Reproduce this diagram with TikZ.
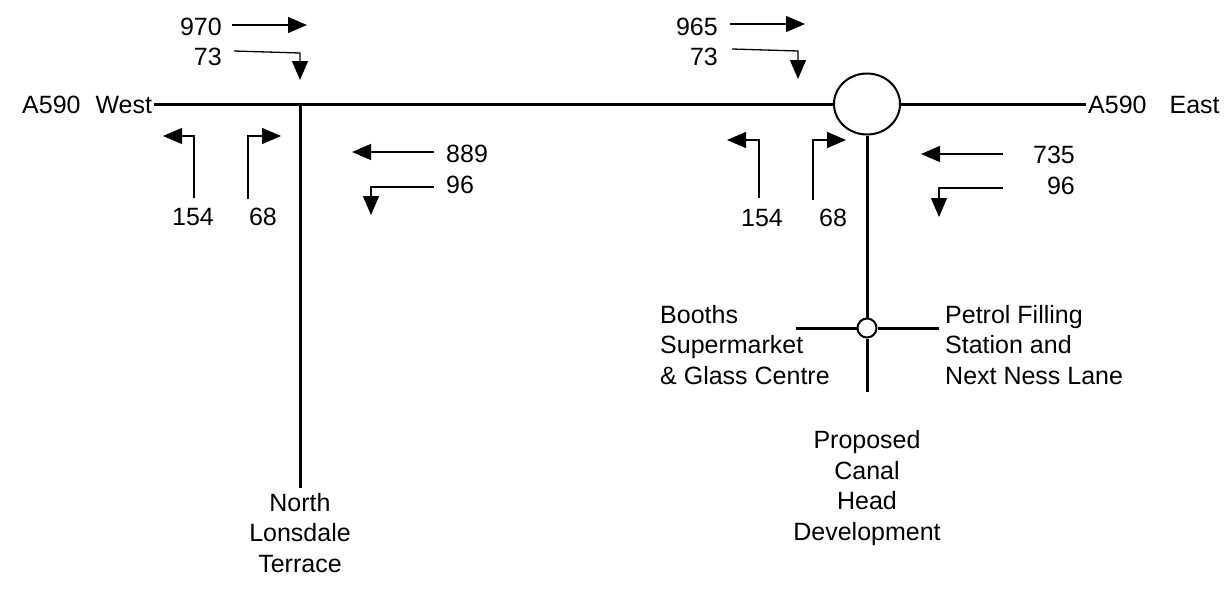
\documentclass[tikz,border=0pt]{standalone}
\usepackage{fontspec}
\setmainfont{Liberation Sans}
\usetikzlibrary{arrows.meta,shapes.geometric}

\begin{document}
\begin{tikzpicture}[x=1pt,y=-1pt,
    road/.style={line width=3pt},
    flow/.style={line width=1.3pt,-{Triangle[length=19pt,width=16pt]}},
    txt/.style={inner sep=0pt,font=\fontsize{25}{30.5}\selectfont},
    ring/.style={draw,line width=2pt,inner sep=0pt}]
\useasboundingbox (0,0) rectangle (1231,589);

% main road and junctions
\node[txt,anchor=base west] (west) at (22,113) {A590\hspace{15pt}West};
\node[txt,anchor=base west] (east) at (1088,113) {A590\hspace{23pt}East};
\node[ring,ellipse,minimum width=66pt,minimum height=61pt] (rb) at (867,104) {};
\node[ring,circle,minimum size=19pt] (mini) at (867,328) {};
\coordinate (wj) at (300,104);
\coordinate (nlt) at (300,488);
\coordinate (canal) at (867,392);
\coordinate (booths) at (796,328);
\coordinate (petrol) at (939,328);
\draw[road] ([xshift=2pt]west.east |- wj) -- (rb.west);
\draw[road] (rb.east) -- ([xshift=-2pt]east.west |- rb);
\draw[road] (wj) -- (nlt);
\draw[road] (rb.south) -- (mini.north);
\draw[road] (mini.south) -- (canal);
\draw[road] (booths) -- (mini.west);
\draw[road] (mini.east) -- (petrol);

% road names (base = last line)
\node[txt,anchor=base,align=center] (nltname) at (300,572) {North\\Lonsdale\\Terrace};
\node[txt,anchor=base,align=center] (canalname) at (867,540) {Proposed\\Canal\\Head\\Development};
\node[txt,anchor=base west,align=left] (boothsname) at (660,384) {Booths\\Supermarket\\\& Glass Centre};
\node[txt,anchor=base west,align=left] (petrolname) at (945,384) {Petrol Filling\\Station and\\Next Ness Lane};

% flows at the West junction
\node[txt,anchor=base east] (w970) at (222,35) {970};
\node[txt,anchor=base east] (w73) at (222,65) {73};
\node[txt,anchor=base] (w154) at (193,225) {154};
\node[txt,anchor=base] (w68) at (263,225) {68};
\node[txt,anchor=base west] (w889) at (446,162) {889};
\node[txt,anchor=base west] (w96) at (446,193) {96};
\draw[flow] (232,25) -- (307,25);
\draw[flow] (234,51) -- (300,53) -- (300,80);
\draw[flow] (194,198) -- (194,136) -- (163,136);
\draw[flow] (248,199) -- (248,136) -- (281,136);
\draw[flow] (434,152) -- (352,152);
\draw[flow] (434,187) -- (371,187) -- (371,215);

% flows at the roundabout
\node[txt,anchor=base east] (e965) at (718,35) {965};
\node[txt,anchor=base east] (e73) at (718,65) {73};
\node[txt,anchor=base] (e154) at (762,226) {154};
\node[txt,anchor=base] (e68) at (833,226) {68};
\node[txt,anchor=base east] (e735) at (1075,163) {735};
\node[txt,anchor=base east] (e96) at (1075,194) {96};
\draw[flow] (730,24) -- (805,24);
\draw[flow] (732,49) -- (798,51) -- (798,79);
\draw[flow] (759,198) -- (759,140) -- (727,140);
\draw[flow] (813,200) -- (813,140) -- (846,140);
\draw[flow] (1003,154) -- (921,154);
\draw[flow] (1003,188) -- (939,188) -- (939,217);
\end{tikzpicture}
\end{document}
